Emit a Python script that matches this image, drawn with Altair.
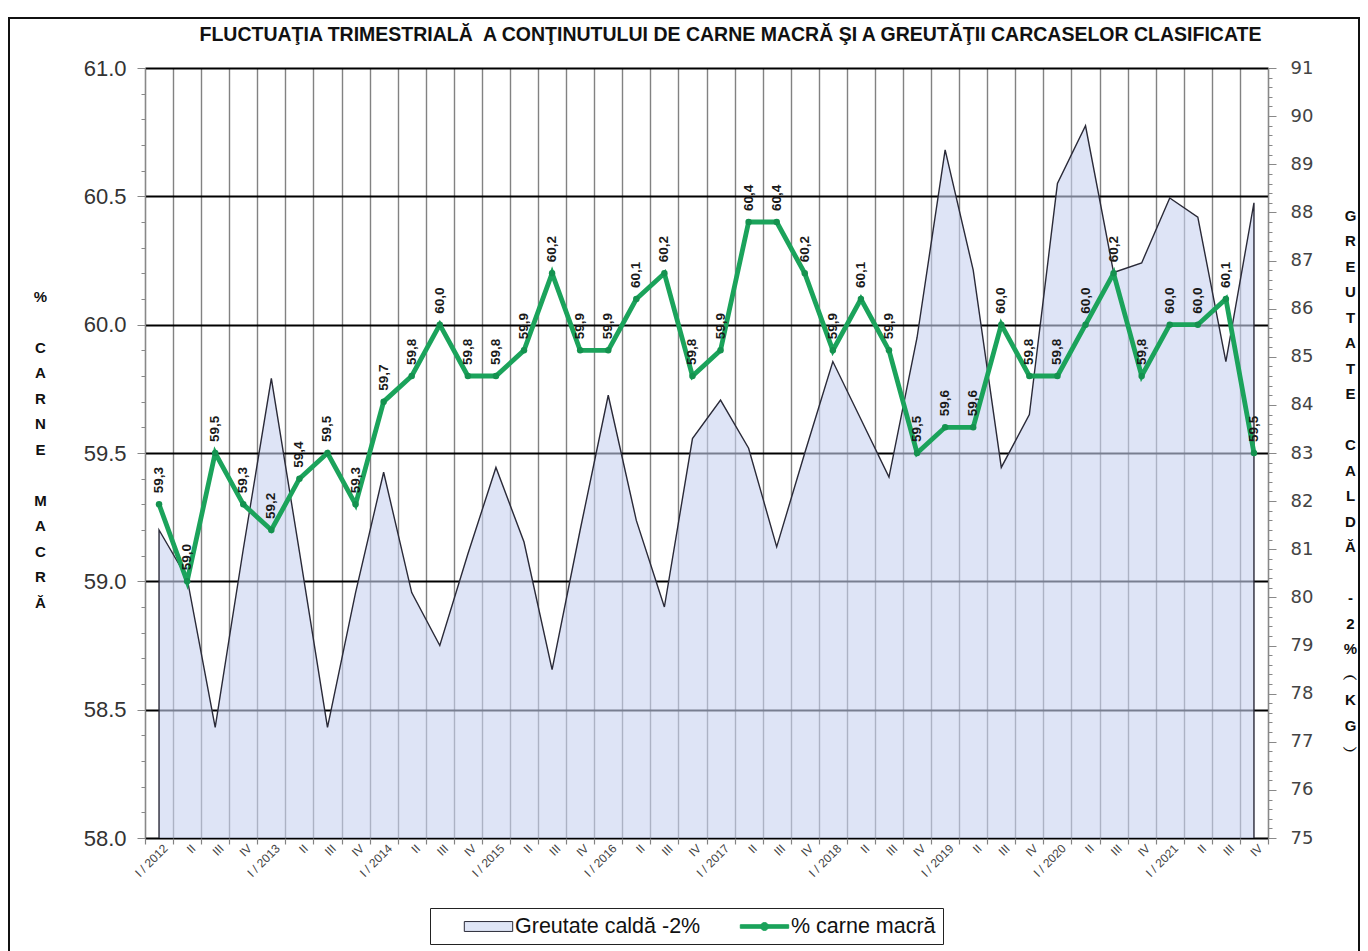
import json
import altair as alt
import pandas as pd

# ---------------- data ----------------
quarter_labels = [
    "I / 2012", "II", "III", "IV",
    "I / 2013", "II", "III", "IV",
    "I / 2014", "II", "III", "IV",
    "I / 2015", "II", "III", "IV",
    "I / 2016", "II", "III", "IV",
    "I / 2017", "II", "III", "IV",
    "I / 2018", "II", "III", "IV",
    "I / 2019", "II", "III", "IV",
    "I / 2020", "II", "III", "IV",
    "I / 2021", "II", "III", "IV",
]

lean_meat_pct = [
    59.3, 59.0, 59.5, 59.3,
    59.2, 59.4, 59.5, 59.3,
    59.7, 59.8, 60.0, 59.8,
    59.8, 59.9, 60.2, 59.9,
    59.9, 60.1, 60.2, 59.8,
    59.9, 60.4, 60.4, 60.2,
    59.9, 60.1, 59.9, 59.5,
    59.6, 59.6, 60.0, 59.8,
    59.8, 60.0, 60.2, 59.8,
    60.0, 60.0, 60.1, 59.5,
]

carcass_weight_kg = [
    81.4, 80.4, 77.3, 81.0,
    84.55, 80.95, 77.3, 80.1,
    82.6, 80.1, 79.0, 80.9,
    82.7, 81.15, 78.5, 81.4,
    84.2, 81.6, 79.8, 83.3,
    84.1, 83.1, 81.05, 83.0,
    84.9, 83.7, 82.5, 85.4,
    89.3, 86.8, 82.7, 83.8,
    88.6, 89.8, 86.75, 86.95,
    88.3, 87.9, 84.9, 88.2,
]

series_names = ["Greutate caldă -2%", "% carne macră"]

title_text = "FLUCTUAŢIA TRIMESTRIALĂ\u00a0 A CONŢINUTULUI DE CARNE MACRĂ ŞI A GREUTĂŢII CARCASELOR CLASIFICATE"
BL = "\u2800"
left_title_lines = ["%", BL, "C", "A", "R", "N", "E", BL, "M", "A", "C", "R", "Ă"]
right_title_lines = ["G", "R", "E", "U", "T", "A", "T", "E", BL,
                     "C", "A", "L", "D", "Ă", BL,
                     "-", "2", "%", "︵", "K", "G", "︶"]

# ---------------- styles ----------------
FONT = "Liberation Sans"
GREEN = "#1ba35b"
GREEN_DARK = "#14924f"
AREA_FILL = "#c8d2f0"
AREA_FILL_SOLID = "#dfe5f6"
AREA_STROKE = "#2a2a38"
VGRID = "#828282"

N = len(quarter_labels)
df = pd.DataFrame({
    "pos": [i + 0.5 for i in range(N)],
    "quarter": quarter_labels,
    "lean": lean_meat_pct,
    "weight": carcass_weight_kg,
})
df["lean_label"] = [f"{v:.1f}".replace(".", ",") for v in lean_meat_pct]

x_scale = alt.Scale(domain=[0, N], nice=False, zero=False)
left_scale = alt.Scale(domain=[58, 61], nice=False, zero=False)
right_scale = alt.Scale(domain=[75, 91], nice=False, zero=False)

# x axes: one for boundary grid/ticks, one for the rotated labels
x_grid_axis = alt.Axis(
    orient="bottom", values=list(range(N + 1)), grid=True, gridColor=VGRID,
    gridWidth=1.4, labels=False, ticks=True, tickColor=VGRID, tickSize=6,
    tickWidth=1.2, domain=False, title=None,
)
label_expr = json.dumps(quarter_labels) + "[floor(datum.value)]"
x_label_axis = alt.Axis(
    orient="bottom", values=[i + 0.5 for i in range(N)], labelExpr=label_expr,
    labelAngle=-45, labelAlign="right", labelBaseline="middle", labelPadding=8,
    labelOffset=6, labelFont=FONT, labelFontSize=12, labelColor="#444",
    labelOverlap=False, ticks=False, grid=False, domain=False, title=None,
)

left_vals = [round(58 + 0.1 * k, 1) for k in range(31)]
left_major = "abs(datum.value*2 - round(datum.value*2)) < 0.001"
left_axis = alt.Axis(
    orient="left", values=left_vals,
    labelExpr=f"{left_major} ? format(datum.value, '.1f') : ''",
    labelFont=FONT, labelFontSize=22, labelColor="#333", labelPadding=11,
    labelOverlap=False,
    grid=True, gridColor="black", gridWidth=2.2,
    gridOpacity={"condition": {"test": left_major, "value": 1}, "value": 0},
    tickColor="#888", tickWidth=1,
    tickSize={"condition": {"test": left_major, "value": 8}, "value": 4},
    domainColor="#888", domainWidth=1.2,
    title=left_title_lines, titleAngle=0, titleAlign="center",
    titleBaseline="top", titleX=-105, titleY=221, titleFont=FONT,
    titleFontSize=15, titleFontWeight="bold", titleColor="#111",
    titleLineHeight=25.5,
)

right_vals = [round(75 + 0.2 * k, 1) for k in range(81)]
right_major = "abs(datum.value - round(datum.value)) < 0.001"
right_axis = alt.Axis(
    orient="right", values=right_vals,
    labelExpr=f"{right_major} ? format(datum.value, 'd') : ''",
    labelFont="DejaVu Sans", labelFontSize=18, labelColor="#444",
    labelPadding=14, labelOverlap=False, grid=False,
    tickColor="#888", tickWidth=1,
    tickSize={"condition": {"test": right_major, "value": 8}, "value": 4},
    domainColor="#888", domainWidth=1.2,
    title=right_title_lines, titleAngle=0, titleAlign="center",
    titleBaseline="top", titleX=82, titleY=140, titleFont=FONT,
    titleFontSize=15, titleFontWeight="bold", titleColor="#111",
    titleLineHeight=25.5,
)

base = alt.Chart(df)

frame = alt.Chart(pd.DataFrame({"f": [0]})).mark_rect(
    filled=False, stroke="#111", strokeWidth=2
).encode(
    x=alt.value(-136), x2=alt.value(1214), y=alt.value(-50), y2=alt.value(895)
)

area = base.mark_area(
    fill=AREA_FILL, fillOpacity=0.6, stroke=AREA_STROKE, strokeWidth=1.4, clip=True
).encode(
    x=alt.X("pos:Q", scale=x_scale, axis=x_grid_axis),
    y=alt.Y("weight:Q", scale=right_scale, axis=right_axis),
)

line = base.mark_line(color=GREEN, strokeWidth=4.8).encode(
    x=alt.X("pos:Q", scale=x_scale, axis=x_label_axis),
    y=alt.Y("lean:Q", scale=left_scale, axis=left_axis),
)
points = base.mark_point(filled=True, size=42, color=GREEN_DARK, opacity=1).encode(
    x=alt.X("pos:Q", scale=x_scale, axis=x_label_axis),
    y=alt.Y("lean:Q", scale=left_scale, axis=left_axis),
)
labels = base.mark_text(
    angle=270, align="left", baseline="middle", dx=11, font=FONT,
    fontSize=13.5, fontWeight="bold", color="#1a1a1a",
).encode(
    x=alt.X("pos:Q", scale=x_scale, axis=x_label_axis),
    y=alt.Y("lean:Q", scale=left_scale, axis=left_axis),
    text="lean_label:N",
)
lean = alt.layer(line, points, labels)

# legend symbols: wide swatch / line-with-marker (path units scaled by sqrt(size)/2 = 11 px)
RECT_PATH = "M-2.2,-0.45 L2.2,-0.45 L2.2,0.45 L-2.2,0.45 Z"
LINE_PATH = ("M-2.2,-0.16 L2.2,-0.16 L2.2,0.16 L-2.2,0.16 Z "
             "M0.36,0 A0.36,0.36 0 1,1 -0.36,0 A0.36,0.36 0 1,1 0.36,0 Z")
leg = alt.Legend(
    orient="none", legendX=285, legendY=840, direction="horizontal", title=None,
    symbolSize=484, symbolStrokeWidth=1, symbolOpacity=1,
    labelFont=FONT, labelFontSize=21.5, labelColor="#111", labelOffset=15,
    labelLimit=0, columnPadding=12, padding=7, strokeColor="#222", symbolOffset=40,
)
legend_df = pd.DataFrame({"series": series_names})
legend_layer = alt.Chart(legend_df).mark_point(filled=True, strokeWidth=1).encode(
    x=alt.value(-500), y=alt.value(400),
    shape=alt.Shape("series:N", scale=alt.Scale(domain=series_names, range=[RECT_PATH, LINE_PATH]), legend=leg),
    fill=alt.Fill("series:N", scale=alt.Scale(domain=series_names, range=[AREA_FILL_SOLID, GREEN]), legend=leg),
    stroke=alt.Stroke("series:N", scale=alt.Scale(domain=series_names, range=[AREA_STROKE, GREEN]), legend=leg),
)

chart = alt.layer(frame, area, lean, legend_layer).resolve_scale(
    y="independent"
).resolve_axis(
    x="independent"
).properties(
    width=1123, height=770,
    autosize=alt.AutoSizeParams(type="none"),
    padding={"left": 137, "top": 60, "right": 92, "bottom": 130},
    title=alt.TitleParams(
        text=title_text, font=FONT, fontSize=19.5, fontWeight="bold", color="#111",
        anchor="middle", dx=24, offset=-28, frame="group",
    ),
).configure_view(stroke=None).configure(background="white")

chart.save("out.html", embed_options={"renderer": "svg", "actions": False})
